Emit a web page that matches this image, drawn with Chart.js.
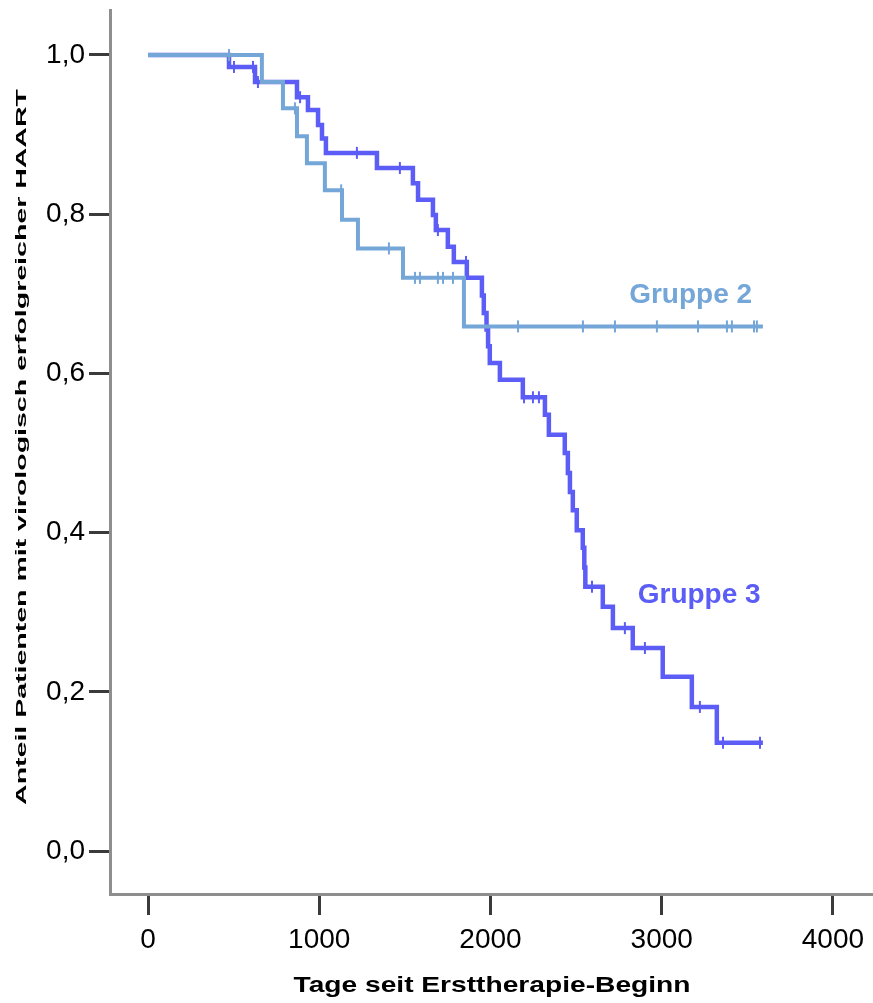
<!DOCTYPE html>
<html>
<head>
<meta charset="utf-8">
<script src="https://cdn.jsdelivr.net/npm/chart.js@4.4.1/dist/chart.umd.min.js"></script>
<style>
  html, body { margin: 0; padding: 0; background: #fff; overflow: hidden; }
  #wrap { width: 873px; height: 1003px; position: relative; }
  canvas { display: block; }
</style>
</head>
<body>
<div id="wrap"><canvas id="km"></canvas></div>
<script>
// Kaplan-Meier: Anteil Patienten mit virologisch erfolgreicher HAART

const X_TICKS = [0, 1000, 2000, 3000, 4000];
const Y_TICKS = [0, 0.2, 0.4, 0.6, 0.8, 1.0];
const Y_TICK_LABELS = ['0,0', '0,2', '0,4', '0,6', '0,8', '1,0'];

// Gruppe 2 (step times in days, survival after each step)
const g2Times = [0, 665, 788, 870, 928, 1033, 1133, 1226, 1489, 1845, 3591];
const g2Surv = [1.0, 0.966, 0.933, 0.898, 0.864, 0.830, 0.793, 0.757, 0.720, 0.659, 0.659];
const g2Censored = [473, 858, 1128, 1407, 1559, 1588, 1693, 1723, 1781, 2161, 2540, 2727, 2972, 3212, 3381, 3410, 3539, 3556];

// Gruppe 3
const g3Times = [0, 473, 625, 870, 934, 993, 1016, 1039, 1337, 1547, 1577, 1664, 1681, 1751, 1786, 1862,
    1950, 1961, 1977, 1986, 1996, 2055, 2189, 2318, 2341, 2434, 2452, 2464, 2481, 2504, 2539, 2548, 2554,
    2656, 2715, 2831, 3006, 3176, 3322, 3591];
const g3Surv = [1.0, 0.985, 0.966, 0.947, 0.931, 0.912, 0.895, 0.877, 0.858, 0.839, 0.818, 0.799, 0.780, 0.759, 0.740, 0.720,
    0.698, 0.676, 0.655, 0.634, 0.613, 0.592, 0.570, 0.548, 0.523, 0.500, 0.475, 0.451, 0.428, 0.403, 0.381, 0.356, 0.332,
    0.307, 0.280, 0.255, 0.219, 0.181, 0.136, 0.136];
const g3Censored = [502, 613, 642, 888, 1220, 1471, 1693, 1857, 2196, 2248, 2283, 2593, 2785, 2902, 3223, 3358, 3574];

const GROUP_LABELS = ['Gruppe 2', 'Gruppe 3'];
const LABEL_X = [2810, 2860];
const LABEL_Y = [0.688, 0.312];

const COLORS = {
    g2: 'rgb(116, 166, 216)',
    g3: 'rgb(92, 92, 246)',
    axis: '#8e8e8e',
    tick: '#3a3a3a'
};
const LABEL_COLORS = [COLORS.g2, COLORS.g3];
const FONT = '"Liberation Sans", Arial, sans-serif';

function survAt(times, surv, t) {
    let s = surv[0];
    for (let i = 0; i < times.length; i++) {
        if (times[i] <= t) s = surv[i];
    }
    return s;
}

function curve(times, surv) {
    return times.map((t, i) => ({ x: t, y: surv[i] }));
}

function censorPoints(ct, times, surv) {
    return ct.map(t => ({ x: t, y: survAt(times, surv, t) }));
}

// draws a text stretched along its baseline
function drawStretched(ctx, text, x, y, rot, font, sx, align) {
    ctx.save();
    ctx.translate(x, y);
    ctx.rotate(rot);
    ctx.scale(sx, 1);
    ctx.font = font;
    ctx.fillStyle = '#000';
    ctx.textAlign = align;
    ctx.textBaseline = 'alphabetic';
    ctx.fillText(text, 0, 0);
    ctx.restore();
}

const annotations = {
    id: 'annotations',
    afterDatasetsDraw(chart) {
        const ctx = chart.ctx;
        const xs = chart.scales.x, ys = chart.scales.y;
        ctx.save();
        ctx.font = 'bold 28px ' + FONT;
        ctx.textBaseline = 'alphabetic';
        ctx.textAlign = 'left';
        GROUP_LABELS.forEach((lbl, i) => {
            ctx.fillStyle = LABEL_COLORS[i];
            ctx.fillText(lbl, xs.getPixelForValue(LABEL_X[i]), ys.getPixelForValue(LABEL_Y[i]));
        });
        ctx.restore();
    },
    afterDraw(chart) {
        const ctx = chart.ctx;
        drawStretched(ctx, 'Tage seit Ersttherapie-Beginn', 492, 992, 0, 'bold 22px ' + FONT, 1.28, 'center');
        drawStretched(ctx, 'Anteil Patienten mit virologisch erfolgreicher HAART', 26, 447, -Math.PI / 2,
            'bold 15px ' + FONT, 1.9, 'center');
    }
};

new Chart(document.getElementById('km'), {
    type: 'scatter',
    data: {
        datasets: [{
            label: 'Gruppe 2 zensiert',
            data: censorPoints(g2Censored, g2Times, g2Surv),
            pointStyle: 'line',
            rotation: 90,
            radius: 6,
            borderWidth: 2,
            borderColor: COLORS.g2,
            showLine: false
        }, {
            label: 'Gruppe 2',
            data: curve(g2Times, g2Surv),
            showLine: true,
            stepped: 'before',
            borderColor: COLORS.g2,
            borderWidth: 4,
            pointRadius: 0,
            fill: false
        }, {
            label: 'Gruppe 3 zensiert',
            data: censorPoints(g3Censored, g3Times, g3Surv),
            pointStyle: 'line',
            rotation: 90,
            radius: 6,
            borderWidth: 2,
            borderColor: COLORS.g3,
            showLine: false
        }, {
            label: 'Gruppe 3',
            data: curve(g3Times, g3Surv),
            showLine: true,
            stepped: 'before',
            borderColor: COLORS.g3,
            borderWidth: 4.5,
            pointRadius: 0,
            fill: false
        }]
    },
    options: {
        responsive: true,
        maintainAspectRatio: false,
        animation: false,
        layout: { autoPadding: false, padding: { top: 10, right: 0, bottom: 0, left: 0 } },
        plugins: {
            legend: { display: false },
            tooltip: { enabled: false }
        },
        scales: {
            x: {
                type: 'linear',
                min: -222,
                max: 4234,
                afterFit: s => { s.height = 109; s.paddingLeft = 0; s.paddingRight = 0; },
                afterBuildTicks: s => { s.ticks = X_TICKS.map(v => ({ value: v })); },
                grid: { drawOnChartArea: false, drawTicks: true, tickLength: 21, tickColor: COLORS.tick, tickWidth: 3 },
                border: { color: COLORS.axis, width: 3 },
                ticks: {
                    color: '#000',
                    padding: 8,
                    maxRotation: 0,
                    font: { family: FONT, size: 28 },
                    callback: v => String(v)
                }
            },
            y: {
                type: 'linear',
                min: -0.054,
                max: 1.0565,
                afterFit: s => { s.width = 110; s.paddingTop = 0; s.paddingBottom = 0; },
                afterBuildTicks: s => { s.ticks = Y_TICKS.map(v => ({ value: v })); },
                grid: { drawOnChartArea: false, drawTicks: true, tickLength: 21, tickColor: COLORS.tick, tickWidth: 3 },
                border: { color: COLORS.axis, width: 3 },
                ticks: {
                    color: '#000',
                    padding: 4,
                    font: { family: FONT, size: 28 },
                    callback: (v, i) => Y_TICK_LABELS[i]
                }
            }
        }
    },
    plugins: [annotations]
});
</script>
</body>
</html>
